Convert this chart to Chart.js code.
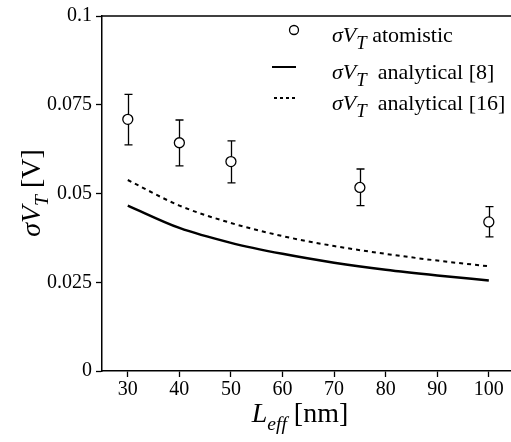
<!DOCTYPE html>
<html>
<head>
<meta charset="utf-8">
<script src="https://cdn.jsdelivr.net/npm/chart.js@4/dist/chart.umd.min.js"></script>
<style>
  body { margin: 0; background: #fff; }
  canvas { display: block; }
</style>
</head>
<body>
<canvas id="myChart" width="511" height="442"></canvas>
<script>
// atomistic simulation points with error bars
var atomL = [30, 40, 50, 75, 100];
var atomSigma = [0.0709, 0.0643, 0.059, 0.0517, 0.042];
var atomLow = [0.0637, 0.0578, 0.053, 0.0466, 0.0378];
var atomHigh = [0.0779, 0.0707, 0.0648, 0.0569, 0.0463];

// analytical curves
var curveL = [30, 40, 50, 60, 70, 80, 90, 100];
var analytical8 = [0.0466, 0.0403, 0.0361, 0.033, 0.0305, 0.0285, 0.0269, 0.0255];
var analytical16 = [0.0538, 0.0466, 0.0417, 0.038, 0.0352, 0.033, 0.0311, 0.0295];

var xTicks = [30, 40, 50, 60, 70, 80, 90, 100];
var yTicks = [0, 0.025, 0.05, 0.075, 0.1];
var yTickLabels = ['0', '0.025', '0.05', '0.075', '0.1'];

function pts(xs, ys) {
    return xs.map(function (x, i) { return { x: x, y: ys[i] }; });
}

// draws text runs like  σV_T  with italic and subscript parts
function drawRich(c, x, y, parts, size, subScale) {
    subScale = subScale || 0.7;
    parts.forEach(function (p) {
        var s = p.sub ? size * subScale : size;
        c.font = (p.italic ? 'italic ' : '') + s + 'px "Liberation Serif"';
        c.fillText(p.t, x, y + (p.sub ? size * 0.3 : 0));
        x += c.measureText(p.t).width;
    });
    return x;
}
function richWidth(c, parts, size, subScale) {
    subScale = subScale || 0.7;
    var w = 0;
    parts.forEach(function (p) {
        var s = p.sub ? size * subScale : size;
        c.font = (p.italic ? 'italic ' : '') + s + 'px "Liberation Serif"';
        w += c.measureText(p.t).width;
    });
    return w;
}

var sigmaVT = [{ t: 'σ', italic: true }, { t: 'V', italic: true }, { t: 'T', italic: true, sub: true }];

var extras = {
    id: 'extras',
    beforeDatasetsDraw: function (chart) {
        var c = chart.ctx, xs = chart.scales.x, ys = chart.scales.y;
        c.save();
        c.strokeStyle = '#000';
        c.lineWidth = 1.3;
        atomL.forEach(function (l, i) {
            var px = Math.round(xs.getPixelForValue(l)) + 0.5;
            var top = ys.getPixelForValue(atomHigh[i]);
            var bot = ys.getPixelForValue(atomLow[i]);
            c.beginPath();
            c.moveTo(px, top); c.lineTo(px, bot);
            c.moveTo(px - 4, top); c.lineTo(px + 4, top);
            c.moveTo(px - 4, bot); c.lineTo(px + 4, bot);
            c.stroke();
        });
        c.restore();
    },
    afterDraw: function (chart) {
        var c = chart.ctx, a = chart.chartArea;
        c.save();
        c.fillStyle = '#000';
        c.strokeStyle = '#000';
        // top frame line
        c.lineWidth = 1.5;
        c.beginPath();
        c.moveTo(a.left, a.top); c.lineTo(a.right, a.top);
        c.stroke();

        // legend
        var size = 22;
        c.textBaseline = 'alphabetic';
        c.textAlign = 'left';
        c.lineWidth = 1.3;
        c.beginPath();
        c.arc(294, 30, 4.5, 0, Math.PI * 2);
        c.fillStyle = '#fff'; c.fill(); c.stroke();
        c.fillStyle = '#000';
        drawRich(c, 332, 42, sigmaVT.concat([{ t: ' atomistic' }]), size, 0.85);

        c.lineWidth = 2;
        c.beginPath();
        c.moveTo(272, 67); c.lineTo(296, 67);
        c.stroke();
        drawRich(c, 332, 79, sigmaVT.concat([{ t: '  analytical [8]' }]), size, 0.85);

        c.setLineDash([3, 3]);
        c.beginPath();
        c.moveTo(274, 98); c.lineTo(297, 98);
        c.stroke();
        c.setLineDash([]);
        drawRich(c, 332, 110, sigmaVT.concat([{ t: '  analytical [16]' }]), size, 0.85);

        // axis titles
        var tsize = 28;
        var xt = [{ t: 'L', italic: true }, { t: 'eff', italic: true, sub: true }, { t: ' [nm]' }];
        var w = richWidth(c, xt, tsize);
        drawRich(c, 300 - w / 2, 422, xt, tsize);

        var yt = sigmaVT.concat([{ t: ' [V]' }]);
        w = richWidth(c, yt, tsize);
        c.translate(40, 193);
        c.rotate(-Math.PI / 2);
        drawRich(c, -w / 2, 0, yt, tsize);
        c.restore();
    }
};

var ctx = document.getElementById('myChart').getContext('2d');
var chart = new Chart(ctx, {
    type: 'scatter',
    data: {
        datasets: [{
            label: 'σVT atomistic',
            data: pts(atomL, atomSigma),
            pointStyle: 'circle',
            pointRadius: 5,
            pointBackgroundColor: '#fff',
            pointBorderColor: '#000',
            pointBorderWidth: 1.3,
            showLine: false
        }, {
            label: 'σVT analytical [8]',
            data: pts(curveL, analytical8),
            showLine: true,
            borderColor: '#000',
            borderWidth: 2.5,
            pointRadius: 0,
            cubicInterpolationMode: 'monotone'
        }, {
            label: 'σVT analytical [16]',
            data: pts(curveL, analytical16),
            showLine: true,
            borderColor: '#000',
            borderWidth: 2,
            borderDash: [4, 4],
            pointRadius: 0,
            cubicInterpolationMode: 'monotone'
        }]
    },
    options: {
        responsive: false,
        animation: false,
        devicePixelRatio: 1,
        layout: { autoPadding: false, padding: { top: 16, right: 0, left: 0, bottom: 0 } },
        plugins: {
            legend: { display: false },
            tooltip: { enabled: false }
        },
        scales: {
            x: {
                type: 'linear',
                min: 25,
                max: 104.3,
                afterBuildTicks: function (s) { s.ticks = xTicks.map(function (v) { return { value: v }; }); },
                afterFit: function (s) { s.height = 71; s.paddingRight = 0; s.paddingLeft = 0; },
                grid: { drawOnChartArea: false, drawTicks: true, tickLength: 6, tickWidth: 1.3, tickColor: '#000' },
                border: { color: '#000', width: 1.5 },
                ticks: {
                    color: '#000',
                    padding: 1,
                    maxRotation: 0,
                    font: { family: 'Liberation Serif', size: 20 }
                }
            },
            y: {
                min: 0,
                max: 0.1,
                afterBuildTicks: function (s) { s.ticks = yTicks.map(function (v) { return { value: v }; }); },
                afterFit: function (s) { s.width = 102; s.paddingTop = 0; s.paddingBottom = 0; },
                grid: { drawOnChartArea: false, drawTicks: true, tickLength: 6, tickWidth: 1.3, tickColor: '#000' },
                border: { color: '#000', width: 1.5 },
                ticks: {
                    color: '#000',
                    padding: 4,
                    font: { family: 'Liberation Serif', size: 20 },
                    callback: function (v) {
                        var i = yTicks.indexOf(v);
                        return i >= 0 ? yTickLabels[i] : '';
                    }
                }
            }
        }
    },
    plugins: [extras]
});
</script>
</body>
</html>
